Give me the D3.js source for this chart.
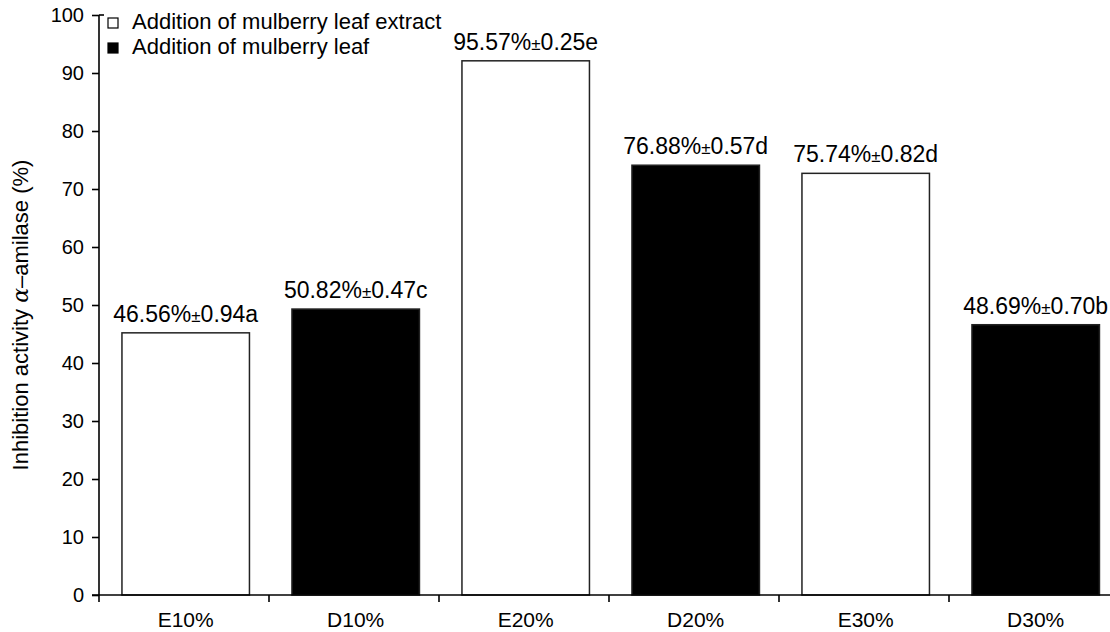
<!DOCTYPE html>
<html>
<head>
<meta charset="utf-8">
<script src="https://cdn.jsdelivr.net/npm/d3@7"></script>
<style>
  body { margin: 0; background: #fff; }
  text { font-family: "Liberation Sans", Arial, sans-serif; fill: #000; }
</style>
</head>
<body>
<div id="chart"></div>
<script>
const categories = ["E10%", "D10%", "E20%", "D20%", "E30%", "D30%"];
const types = ["E", "D", "E", "D", "E", "D"];
const values = [45.2, 49.3, 92.1, 74.1, 72.7, 46.6];
const labels = [
    ["46.56%", "±", "0.94a"],
    ["50.82%", "±", "0.47c"],
    ["95.57%", "±", "0.25e"],
    ["76.88%", "±", "0.57d"],
    ["75.74%", "±", "0.82d"],
    ["48.69%", "±", "0.70b"]
];
const yTicks = [0, 10, 20, 30, 40, 50, 60, 70, 80, 90, 100];
const legendItems = [
    {type: "E", text: "Addition of mulberry leaf extract"},
    {type: "D", text: "Addition of mulberry leaf"}
];

const width = 1110, height = 632;
const fillFor = function(t) { return t === "E" ? "#fff" : "#000"; };

const svg = d3.select("#chart")
    .append("svg")
    .attr("width", width)
    .attr("height", height);

const x = d3.scaleBand()
    .domain(categories)
    .range([99, 1119])
    .paddingInner(0.25)
    .paddingOuter(0.125)
    .align(0.54);

const y = d3.scaleLinear()
    .domain([0, 100])
    .range([595, 15]);

// bars
svg.append("g")
    .selectAll("rect")
    .data(categories)
    .join("rect")
    .attr("x", function(d) { return x(d); })
    .attr("y", function(d, i) { return y(values[i]); })
    .attr("width", x.bandwidth())
    .attr("height", function(d, i) { return y(0) - y(values[i]); })
    .attr("fill", function(d, i) { return fillFor(types[i]); })
    .attr("stroke", "#222")
    .attr("stroke-width", 1.5);

// value labels
const lab = svg.append("g")
    .selectAll("text")
    .data(categories)
    .join("text")
    .attr("x", function(d) { return x(d) + x.bandwidth() / 2; })
    .attr("y", function(d, i) { return y(values[i]) - 11; })
    .attr("text-anchor", "middle")
    .attr("font-size", "23px");
lab.append("tspan").text(function(d, i) { return labels[i][0]; });
lab.append("tspan").attr("font-size", "17px").text(function(d, i) { return labels[i][1]; });
lab.append("tspan").text(function(d, i) { return labels[i][2]; });

// y axis
const yAxis = svg.append("g")
    .attr("transform", "translate(99,0)")
    .call(d3.axisLeft(y).tickValues(yTicks).tickSize(7).tickPadding(8));
yAxis.select(".domain").attr("d", "M0," + y(100) + "V602").attr("stroke", "#000").attr("stroke-width", 1.6);
yAxis.selectAll(".tick line").attr("stroke", "#000").attr("stroke-width", 1.6);
yAxis.selectAll(".tick text").attr("font-size", "20px").attr("font-family", "Liberation Sans, Arial, sans-serif");
yAxis.append("line").attr("x1", 0).attr("x2", 5).attr("y1", y(100)).attr("y2", y(100))
    .attr("stroke", "#000").attr("stroke-width", 1.6);

// x axis
const xg = svg.append("g");
xg.append("line")
    .attr("x1", 92).attr("x2", width)
    .attr("y1", y(0)).attr("y2", y(0))
    .attr("stroke", "#000").attr("stroke-width", 1.6);
xg.selectAll("line.tk")
    .data(d3.range(1, categories.length))
    .join("line")
    .attr("class", "tk")
    .attr("x1", function(i) { return x.range()[0] + i * x.step(); })
    .attr("x2", function(i) { return x.range()[0] + i * x.step(); })
    .attr("y1", y(0)).attr("y2", y(0) + 7)
    .attr("stroke", "#000").attr("stroke-width", 1.6);
xg.selectAll("text")
    .data(categories)
    .join("text")
    .attr("x", function(d) { return x(d) + x.bandwidth() / 2; })
    .attr("y", 627)
    .attr("text-anchor", "middle")
    .attr("font-size", "21px")
    .text(function(d) { return d; });

// y title
const yt = svg.append("text")
    .attr("transform", "translate(28,315) rotate(-90)")
    .attr("text-anchor", "middle")
    .attr("font-size", "22px");
yt.append("tspan").text("Inhibition activity ");
yt.append("tspan").attr("font-family", "DejaVu Serif, serif").attr("font-style", "italic").text("α");
yt.append("tspan").text("–amilase (%)");

// legend
const lg = svg.append("g")
    .selectAll("g")
    .data(legendItems)
    .join("g")
    .attr("transform", function(d, i) { return "translate(108," + (18 + i * 25) + ")"; });
lg.append("rect")
    .attr("width", 10).attr("height", 10)
    .attr("fill", function(d) { return fillFor(d.type); })
    .attr("stroke", "#000").attr("stroke-width", 1.2);
lg.append("text")
    .attr("x", 24).attr("y", 11)
    .attr("font-size", "22px")
    .text(function(d) { return d.text; });
</script>
</body>
</html>
